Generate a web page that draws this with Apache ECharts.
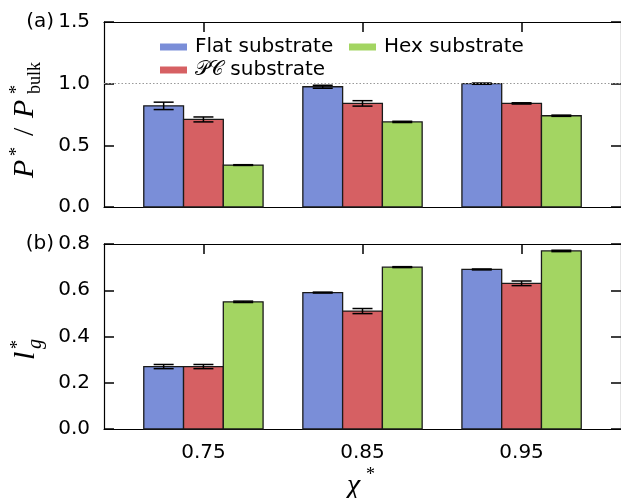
<!DOCTYPE html>
<html><head><meta charset="utf-8">
<script src="https://cdn.jsdelivr.net/npm/echarts@6/dist/echarts.min.js"></script>
<style>html,body{margin:0;padding:0;background:#fff}#c{width:621px;height:498px}</style>
</head><body><div id="c"></div>
<script>
// ---- data ----
const chiValues = [0.75, 0.85, 0.95];
const seriesNames = ['Flat substrate', '\u{1D4AB}\u{1D49E} substrate', 'Hex substrate'];
// panel (a): P*/P*_bulk
const pFlat = [0.82, 0.975, 1.0];
const pFlatErr = [0.03, 0.012, 0.005];
const pPC = [0.71, 0.84, 0.84];
const pPCErr = [0.02, 0.022, 0.005];
const pHex = [0.34, 0.69, 0.74];
const pHexErr = [0.003, 0.005, 0.005];
// panel (b): l*_g
const lFlat = [0.27, 0.59, 0.69];
const lFlatErr = [0.009, 0.002, 0.002];
const lPC = [0.27, 0.51, 0.63];
const lPCErr = [0.009, 0.011, 0.01];
const lHex = [0.55, 0.70, 0.77];
const lHexErr = [0.003, 0.002, 0.003];
// axis ranges / ticks
const pAxis = {min: 0, max: 1.5, interval: 0.5};
const lAxis = {min: 0, max: 0.8, interval: 0.2};
const xRange = {min: 0.6875, max: 1.0125};
const refLine = 1.0;

const colors = ['#7a8ed8', '#d66063', '#a3d562'];
const BAR_W = 0.025;
const FONT = 'DejaVu Sans';

function makeSeries(idx, grid, vals, errs, extra) {
  return Object.assign({
    type: 'custom', name: seriesNames[idx],
    xAxisIndex: grid * 2, yAxisIndex: grid * 2,
    itemStyle: {color: colors[idx]},
    data: chiValues.map((x, i) => [x, vals[i], errs[i]]),
    encode: {x: 0, y: 1},
    renderItem(params, api) {
      const x = api.value(0), y = api.value(1), e = api.value(2);
      const x0 = x + (idx - 1.5) * BAR_W, x1 = x0 + BAR_W, xc = x0 + BAR_W / 2;
      const p0 = api.coord([x0, y]), p1 = api.coord([x1, 0]);
      const t = api.coord([xc, y + e]), b = api.coord([xc, y - e]);
      const cap = 10;
      return {type: 'group', children: [
        {type: 'rect', shape: {x: p0[0], y: p0[1], width: p1[0] - p0[0], height: p1[1] - p0[1]},
          style: {fill: colors[idx], stroke: '#1a1a1a', lineWidth: 1.3}},
        {type: 'line', shape: {x1: t[0], y1: t[1], x2: b[0], y2: b[1]}, style: {stroke: '#000', lineWidth: 1.5}},
        {type: 'line', shape: {x1: t[0] - cap, y1: t[1], x2: t[0] + cap, y2: t[1]}, style: {stroke: '#000', lineWidth: 1.5}},
        {type: 'line', shape: {x1: b[0] - cap, y1: b[1], x2: b[0] + cap, y2: b[1]}, style: {stroke: '#000', lineWidth: 1.5}}
      ]};
    }
  }, extra || {});
}

const axisLine = {show: true, onZero: false, lineStyle: {color: '#000', width: 1.2}};
function xAx(grid, pos, labels) {
  return {type: 'value', gridIndex: grid, position: pos, min: xRange.min, max: xRange.max,
    axisLine, splitLine: {show: false},
    axisTick: {show: true, inside: true, length: 10, customValues: chiValues, lineStyle: {color: '#000', width: 1.5}},
    axisLabel: {show: labels, customValues: chiValues, formatter: v => v.toFixed(2), color: '#000',
      fontFamily: FONT, fontSize: 20, margin: 14}};
}
function yAx(grid, pos, rng, labels) {
  return {type: 'value', gridIndex: grid, position: pos, min: rng.min, max: rng.max, interval: rng.interval,
    axisLine, splitLine: {show: false},
    axisTick: {show: true, inside: true, length: 10, lineStyle: {color: '#000', width: 1.5}},
    axisLabel: {show: labels, formatter: v => v.toFixed(1), color: '#000', fontFamily: FONT, fontSize: 20, margin: 14}};
}

const legendText = {fontFamily: FONT, fontSize: 20, color: '#000', lineHeight: 20, padding: [0, 0, 0, 3]};
const chart = echarts.init(document.getElementById('c'), null, {renderer: 'canvas'});
chart.setOption({
  animation: false,
  backgroundColor: '#fff',
  textStyle: {fontFamily: FONT},
  grid: [
    {left: 104, top: 22, height: 185, right: -9},
    {left: 104, top: 244, height: 185, right: -9}
  ],
  xAxis: [xAx(0, 'bottom', false), xAx(0, 'top', false), xAx(1, 'bottom', true), xAx(1, 'top', false)],
  yAxis: [yAx(0, 'left', pAxis, true), yAx(0, 'right', pAxis, false), yAx(1, 'left', lAxis, true), yAx(1, 'right', lAxis, false)],
  legend: [
    {data: [seriesNames[0], seriesNames[1]], orient: 'vertical', left: 160, top: 37, itemGap: 3, padding: 0,
      itemWidth: 27, itemHeight: 7, icon: 'rect', itemStyle: {borderWidth: 0}, textStyle: legendText},
    {data: [seriesNames[2]], orient: 'vertical', left: 349, top: 37, padding: 0,
      itemWidth: 27, itemHeight: 7, icon: 'rect', itemStyle: {borderWidth: 0}, textStyle: legendText}
  ],
  series: [
    makeSeries(0, 0, pFlat, pFlatErr, {markLine: {silent: true, symbol: 'none', label: {show: false},
      lineStyle: {color: '#999', type: [1.5, 2], width: 1}, data: [{yAxis: refLine}]}}),
    makeSeries(1, 0, pPC, pPCErr),
    makeSeries(2, 0, pHex, pHexErr),
    makeSeries(0, 1, lFlat, lFlatErr),
    makeSeries(1, 1, lPC, lPCErr),
    makeSeries(2, 1, lHex, lHexErr)
  ],
  graphic: [
    {type: 'text', x: 54, y: 22, style: {text: '(a)', font: '20px "DejaVu Sans"', fill: '#000', align: 'right', verticalAlign: 'middle'}},
    {type: 'text', x: 54, y: 244, style: {text: '(b)', font: '20px "DejaVu Sans"', fill: '#000', align: 'right', verticalAlign: 'middle'}},
    {type: 'group', x: 25, y: 178, rotation: Math.PI / 2, children: [
      {type: 'text', x: 0, y: 0, style: {text: 'P', font: 'italic 30px "Liberation Serif"', fill: '#000', verticalAlign: 'middle'}},
      {type: 'text', x: 22, y: -8, style: {text: '*', font: '18px "Liberation Serif"', fill: '#000', verticalAlign: 'middle'}},
      {type: 'text', x: 42, y: 0, style: {text: '/', font: '30px "Liberation Serif"', fill: '#000', verticalAlign: 'middle'}},
      {type: 'text', x: 60, y: 0, style: {text: 'P', font: 'italic 30px "Liberation Serif"', fill: '#000', verticalAlign: 'middle'}},
      {type: 'text', x: 84, y: -8, style: {text: '*', font: '18px "Liberation Serif"', fill: '#000', verticalAlign: 'middle'}},
      {type: 'text', x: 84, y: 10, style: {text: 'bulk', font: '18px "Liberation Serif"', fill: '#000', verticalAlign: 'middle'}}
    ]},
    {type: 'group', x: 26, y: 360, rotation: Math.PI / 2, children: [
      {type: 'text', x: 0, y: 0, style: {text: 'l', font: 'italic 30px "Liberation Serif"', fill: '#000', verticalAlign: 'middle'}},
      {type: 'text', x: 11, y: -8, style: {text: '*', font: '18px "Liberation Serif"', fill: '#000', verticalAlign: 'middle'}},
      {type: 'text', x: 11, y: 10, style: {text: 'g', font: 'italic 20px "Liberation Serif"', fill: '#000', verticalAlign: 'middle'}}
    ]},
    {type: 'text', x: 347, y: 486, style: {text: '\u03C7', font: 'italic 30px "Liberation Serif"', fill: '#000', verticalAlign: 'middle'}},
    {type: 'text', x: 366, y: 475, style: {text: '*', font: '18px "Liberation Serif"', fill: '#000', verticalAlign: 'middle'}}
  ]
});
</script></body></html>
